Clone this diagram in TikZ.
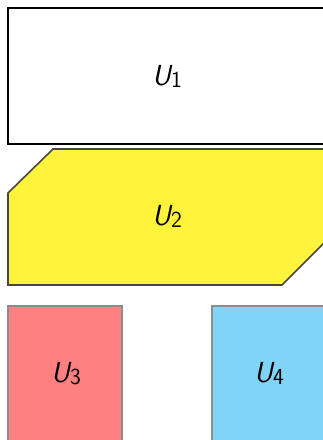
\documentclass[tikz,border=0pt]{standalone}
\definecolor{yelc}{HTML}{FFF33B}
\definecolor{redc}{HTML}{FF8080}
\definecolor{bluec}{HTML}{80D4F6}
\newcommand{\usub}[1]{{\itshape U}\kern0.5pt\raisebox{-2.5pt}{\fontsize{23}{28}\selectfont #1}}
\begin{document}
\begin{tikzpicture}[x=1pt,y=-1pt,
  lab/.style={font=\fontsize{29}{34}\selectfont\sffamily, anchor=base, inner sep=0pt},
  box/.style={line width=1.6pt}]
\useasboundingbox (0,0) rectangle (323,440);
\clip (0,0) rectangle (323,440);
\draw[box, draw=black, fill=white] (8,8) rectangle (327,144);
\node[lab] (u1) at (167,85) {\usub{1}};
\draw[box, draw=black!72, fill=yelc] (8,285) -- (8,193) -- (53,149) -- (327,149) -- (327,240) -- (282,285) -- cycle;
\node[lab] (u2) at (167,225) {\usub{2}};
\draw[line width=2pt, draw=black!45, fill=redc] (8,306) rectangle (122,452);
\node[lab] (u3) at (66,382) {\usub{3}};
\draw[line width=2pt, draw=black!45, fill=bluec] (212,306) rectangle (327,452);
\node[lab] (u4) at (269,382) {\usub{4}};
\end{tikzpicture}
\end{document}
